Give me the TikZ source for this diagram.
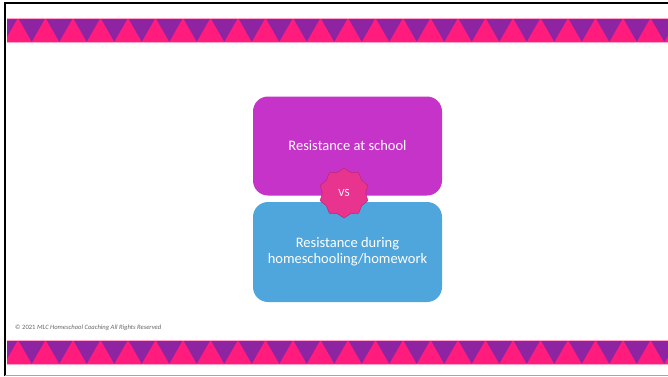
\documentclass[tikz,border=0pt]{standalone}
\usepackage{fontspec}
\setmainfont{Carlito}
\usetikzlibrary{shapes.geometric}
\definecolor{bandpink}{HTML}{FF1C7C}
\definecolor{bandpurple}{HTML}{8E24A2}
\definecolor{boxpurple}{HTML}{C533C8}
\definecolor{boxblue}{HTML}{4FA6DD}
\definecolor{starpink}{HTML}{E8338F}
\definecolor{starline}{HTML}{B8287A}
\tikzset{
  slidebox/.style={rounded corners=15pt, minimum width=189pt, minimum height=99pt, text=white, align=center, font=\fontsize{14.5}{16}\selectfont, inner sep=0pt},
  vsstar/.style={star, star points=10, star point ratio=1.15, minimum size=50pt, fill=starpink, draw=starline, line width=0.5pt, text=white, font=\fontsize{11}{12}\selectfont, inner sep=0pt}
}
\newcommand{\triband}[1]{%
  \begin{scope}
    \clip (7,#1) rectangle (668,#1+24);
    \fill[bandpurple] (7,#1) rectangle (668,#1+24);
    \foreach \i in {0,...,24}
      \fill[bandpink] (4.25+27.5*\i,#1+24) -- (18+27.5*\i,#1) -- (31.75+27.5*\i,#1+24) -- cycle;
  \end{scope}
  \draw[bandpink!40, line width=0.8pt] (7,#1) -- (668,#1);
  \draw[bandpink!40, line width=0.8pt] (7,#1+24) -- (668,#1+24);
}
\begin{document}
\begin{tikzpicture}[x=1pt, y=-1pt]
        \useasboundingbox (0,0) rectangle (668,376);
        % Slide frame
        \fill[white] (0,0) rectangle (668,376);
        \draw[black, line width=2pt] (5,376) -- (5,3) -- (668,3);
        \draw[gray!70, line width=1pt] (5,375.5) -- (668,375.5);

        % Triangle bands
        \triband{18}
        \triband{340}

        % Footer
        \node[right, inner sep=0pt, text=gray!80!black, font=\fontsize{6.6}{7}\selectfont] (footer) at (15,328) {© 2021 \textit{MLC Homeschool Coaching All Rights Reserved}};

        % Comparison boxes
        \node[slidebox, fill=boxpurple] (school) at (347.5,146) {Resistance at school};
        \node[slidebox, fill=boxblue, minimum height=100pt] (home) at (347.5,252) {Resistance during\\homeschooling/homework};

        % VS badge
        \node[vsstar] (vs) at (344,193) {VS};
    \end{tikzpicture}
\end{document}
